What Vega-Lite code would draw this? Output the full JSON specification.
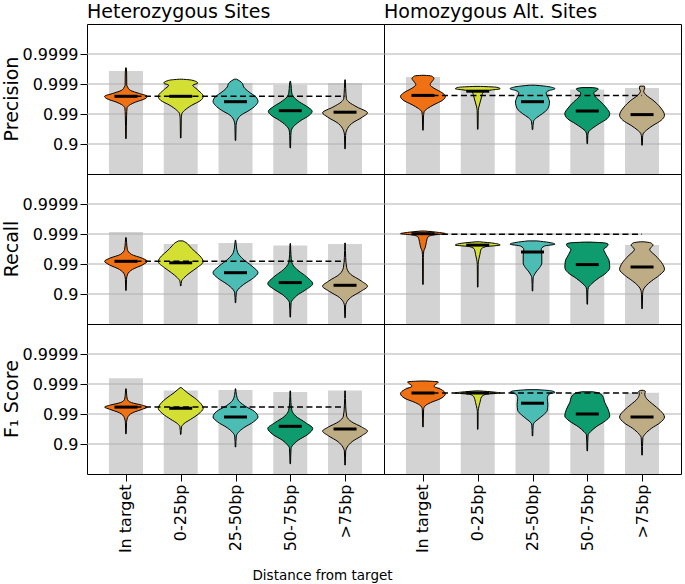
{
"$schema":"https://vega.github.io/schema/vega-lite/v6.json",
"padding":{"left":3,"top":3,"right":0,"bottom":0},
"bounds":"flush",
"data":{"values":[
{"r":"P","s":"het","k":"b","c":0,"y":3.43},{"r":"P","s":"het","k":"b","c":1,"y":3.03},{"r":"P","s":"het","k":"b","c":2,"y":3.03},{"r":"P","s":"het","k":"b","c":3,"y":2.97},{"r":"P","s":"het","k":"b","c":4,"y":3.03},
{"r":"P","s":"hom","k":"b","c":0,"y":3.23},{"r":"P","s":"hom","k":"b","c":1,"y":2.85},{"r":"P","s":"hom","k":"b","c":2,"y":2.87},{"r":"P","s":"hom","k":"b","c":3,"y":2.82},{"r":"P","s":"hom","k":"b","c":4,"y":2.87},
{"r":"R","s":"het","k":"b","c":0,"y":3.07},{"r":"R","s":"het","k":"b","c":1,"y":2.67},{"r":"R","s":"het","k":"b","c":2,"y":2.7},{"r":"R","s":"het","k":"b","c":3,"y":2.62},{"r":"R","s":"het","k":"b","c":4,"y":2.67},
{"r":"R","s":"hom","k":"b","c":0,"y":3.0},{"r":"R","s":"hom","k":"b","c":1,"y":2.6},{"r":"R","s":"hom","k":"b","c":2,"y":2.63},{"r":"R","s":"hom","k":"b","c":3,"y":2.6},{"r":"R","s":"hom","k":"b","c":4,"y":2.63},
{"r":"F","s":"het","k":"b","c":0,"y":3.19},{"r":"F","s":"het","k":"b","c":1,"y":2.78},{"r":"F","s":"het","k":"b","c":2,"y":2.8},{"r":"F","s":"het","k":"b","c":3,"y":2.73},{"r":"F","s":"het","k":"b","c":4,"y":2.78},
{"r":"F","s":"hom","k":"b","c":0,"y":2.9},{"r":"F","s":"hom","k":"b","c":1,"y":2.71},{"r":"F","s":"hom","k":"b","c":2,"y":2.73},{"r":"F","s":"hom","k":"b","c":3,"y":2.7},{"r":"F","s":"hom","k":"b","c":4,"y":2.71},
{"r":"P","s":"het","k":"m","c":0,"y":2.59},{"r":"P","s":"het","k":"m","c":1,"y":2.59},{"r":"P","s":"het","k":"m","c":2,"y":2.41},{"r":"P","s":"het","k":"m","c":3,"y":2.11},{"r":"P","s":"het","k":"m","c":4,"y":2.06},
{"r":"P","s":"hom","k":"m","c":0,"y":2.62},{"r":"P","s":"hom","k":"m","c":1,"y":2.76},{"r":"P","s":"hom","k":"m","c":2,"y":2.41},{"r":"P","s":"hom","k":"m","c":3,"y":2.1},{"r":"P","s":"hom","k":"m","c":4,"y":1.98},
{"r":"R","s":"het","k":"m","c":0,"y":2.09},{"r":"R","s":"het","k":"m","c":1,"y":2.04},{"r":"R","s":"het","k":"m","c":2,"y":1.71},{"r":"R","s":"het","k":"m","c":3,"y":1.38},{"r":"R","s":"het","k":"m","c":4,"y":1.29},
{"r":"R","s":"hom","k":"m","c":0,"y":3.01},{"r":"R","s":"hom","k":"m","c":1,"y":2.63},{"r":"R","s":"hom","k":"m","c":2,"y":2.4},{"r":"R","s":"hom","k":"m","c":3,"y":1.98},{"r":"R","s":"hom","k":"m","c":4,"y":1.9},
{"r":"F","s":"het","k":"m","c":0,"y":2.23},{"r":"F","s":"het","k":"m","c":1,"y":2.19},{"r":"F","s":"het","k":"m","c":2,"y":1.9},{"r":"F","s":"het","k":"m","c":3,"y":1.59},{"r":"F","s":"het","k":"m","c":4,"y":1.5},
{"r":"F","s":"hom","k":"m","c":0,"y":2.7},{"r":"F","s":"hom","k":"m","c":1,"y":2.7},{"r":"F","s":"hom","k":"m","c":2,"y":2.36},{"r":"F","s":"hom","k":"m","c":3,"y":2.0},{"r":"F","s":"hom","k":"m","c":4,"y":1.9},
{"r":"P","s":"het","k":"d","y":2.59},{"r":"P","s":"hom","k":"d","y":2.62},{"r":"R","s":"het","k":"d","y":2.09},{"r":"R","s":"hom","k":"d","y":2.99},{"r":"F","s":"het","k":"d","y":2.23},{"r":"F","s":"hom","k":"d","y":2.7},

{"r":"P","s":"het","k":"v","c":0,"y":3.54,"w":0.005},{"r":"P","s":"het","k":"v","c":0,"y":3.40,"w":0.012},{"r":"P","s":"het","k":"v","c":0,"y":2.96,"w":0.015},{"r":"P","s":"het","k":"v","c":0,"y":2.90,"w":0.03},{"r":"P","s":"het","k":"v","c":0,"y":2.79,"w":0.08},{"r":"P","s":"het","k":"v","c":0,"y":2.68,"w":0.25},{"r":"P","s":"het","k":"v","c":0,"y":2.59,"w":0.39},{"r":"P","s":"het","k":"v","c":0,"y":2.51,"w":0.35},{"r":"P","s":"het","k":"v","c":0,"y":2.40,"w":0.18},{"r":"P","s":"het","k":"v","c":0,"y":2.29,"w":0.06},{"r":"P","s":"het","k":"v","c":0,"y":2.20,"w":0.02},{"r":"P","s":"het","k":"v","c":0,"y":1.96,"w":0.012},{"r":"P","s":"het","k":"v","c":0,"y":1.18,"w":0.005},
{"r":"P","s":"het","k":"v","c":1,"y":3.16,"w":0.02},{"r":"P","s":"het","k":"v","c":1,"y":3.13,"w":0.2},{"r":"P","s":"het","k":"v","c":1,"y":3.03,"w":0.31},{"r":"P","s":"het","k":"v","c":1,"y":2.96,"w":0.22},{"r":"P","s":"het","k":"v","c":1,"y":2.82,"w":0.3},{"r":"P","s":"het","k":"v","c":1,"y":2.59,"w":0.41},{"r":"P","s":"het","k":"v","c":1,"y":2.46,"w":0.37},{"r":"P","s":"het","k":"v","c":1,"y":2.29,"w":0.2},{"r":"P","s":"het","k":"v","c":1,"y":2.12,"w":0.07},{"r":"P","s":"het","k":"v","c":1,"y":2.01,"w":0.02},{"r":"P","s":"het","k":"v","c":1,"y":1.84,"w":0.01},{"r":"P","s":"het","k":"v","c":1,"y":1.20,"w":0.005},
{"r":"P","s":"het","k":"v","c":2,"y":3.16,"w":0.02},{"r":"P","s":"het","k":"v","c":2,"y":3.11,"w":0.07},{"r":"P","s":"het","k":"v","c":2,"y":3.01,"w":0.13},{"r":"P","s":"het","k":"v","c":2,"y":2.90,"w":0.15},{"r":"P","s":"het","k":"v","c":2,"y":2.73,"w":0.25},{"r":"P","s":"het","k":"v","c":2,"y":2.57,"w":0.37},{"r":"P","s":"het","k":"v","c":2,"y":2.42,"w":0.41},{"r":"P","s":"het","k":"v","c":2,"y":2.29,"w":0.37},{"r":"P","s":"het","k":"v","c":2,"y":2.12,"w":0.25},{"r":"P","s":"het","k":"v","c":2,"y":1.96,"w":0.1},{"r":"P","s":"het","k":"v","c":2,"y":1.79,"w":0.03},{"r":"P","s":"het","k":"v","c":2,"y":1.62,"w":0.01},{"r":"P","s":"het","k":"v","c":2,"y":1.12,"w":0.005},
{"r":"P","s":"het","k":"v","c":3,"y":3.09,"w":0.005},{"r":"P","s":"het","k":"v","c":3,"y":2.96,"w":0.015},{"r":"P","s":"het","k":"v","c":3,"y":2.73,"w":0.025},{"r":"P","s":"het","k":"v","c":3,"y":2.57,"w":0.06},{"r":"P","s":"het","k":"v","c":3,"y":2.40,"w":0.17},{"r":"P","s":"het","k":"v","c":3,"y":2.23,"w":0.32},{"r":"P","s":"het","k":"v","c":3,"y":2.09,"w":0.4},{"r":"P","s":"het","k":"v","c":3,"y":1.96,"w":0.35},{"r":"P","s":"het","k":"v","c":3,"y":1.79,"w":0.2},{"r":"P","s":"het","k":"v","c":3,"y":1.62,"w":0.08},{"r":"P","s":"het","k":"v","c":3,"y":1.46,"w":0.02},{"r":"P","s":"het","k":"v","c":3,"y":1.29,"w":0.01},{"r":"P","s":"het","k":"v","c":3,"y":0.87,"w":0.005},
{"r":"P","s":"het","k":"v","c":4,"y":3.14,"w":0.005},{"r":"P","s":"het","k":"v","c":4,"y":2.84,"w":0.012},{"r":"P","s":"het","k":"v","c":4,"y":2.51,"w":0.025},{"r":"P","s":"het","k":"v","c":4,"y":2.40,"w":0.07},{"r":"P","s":"het","k":"v","c":4,"y":2.23,"w":0.22},{"r":"P","s":"het","k":"v","c":4,"y":2.04,"w":0.41},{"r":"P","s":"het","k":"v","c":4,"y":1.90,"w":0.32},{"r":"P","s":"het","k":"v","c":4,"y":1.68,"w":0.12},{"r":"P","s":"het","k":"v","c":4,"y":1.46,"w":0.03},{"r":"P","s":"het","k":"v","c":4,"y":1.29,"w":0.01},{"r":"P","s":"het","k":"v","c":4,"y":0.84,"w":0.005},

{"r":"P","s":"hom","k":"v","c":0,"y":3.29,"w":0.02},{"r":"P","s":"hom","k":"v","c":0,"y":3.27,"w":0.15},{"r":"P","s":"hom","k":"v","c":0,"y":3.18,"w":0.2},{"r":"P","s":"hom","k":"v","c":0,"y":3.07,"w":0.16},{"r":"P","s":"hom","k":"v","c":0,"y":2.98,"w":0.13},{"r":"P","s":"hom","k":"v","c":0,"y":2.84,"w":0.22},{"r":"P","s":"hom","k":"v","c":0,"y":2.71,"w":0.35},{"r":"P","s":"hom","k":"v","c":0,"y":2.59,"w":0.41},{"r":"P","s":"hom","k":"v","c":0,"y":2.46,"w":0.36},{"r":"P","s":"hom","k":"v","c":0,"y":2.31,"w":0.2},{"r":"P","s":"hom","k":"v","c":0,"y":2.18,"w":0.08},{"r":"P","s":"hom","k":"v","c":0,"y":2.07,"w":0.02},{"r":"P","s":"hom","k":"v","c":0,"y":1.90,"w":0.01},{"r":"P","s":"hom","k":"v","c":0,"y":1.46,"w":0.005},
{"r":"P","s":"hom","k":"v","c":1,"y":2.92,"w":0.05},{"r":"P","s":"hom","k":"v","c":1,"y":2.89,"w":0.35},{"r":"P","s":"hom","k":"v","c":1,"y":2.84,"w":0.41},{"r":"P","s":"hom","k":"v","c":1,"y":2.80,"w":0.25},{"r":"P","s":"hom","k":"v","c":1,"y":2.73,"w":0.1},{"r":"P","s":"hom","k":"v","c":1,"y":2.57,"w":0.07},{"r":"P","s":"hom","k":"v","c":1,"y":2.40,"w":0.045},{"r":"P","s":"hom","k":"v","c":1,"y":2.23,"w":0.02},{"r":"P","s":"hom","k":"v","c":1,"y":2.12,"w":0.01},{"r":"P","s":"hom","k":"v","c":1,"y":1.49,"w":0.005},
{"r":"P","s":"hom","k":"v","c":2,"y":2.96,"w":0.05},{"r":"P","s":"hom","k":"v","c":2,"y":2.91,"w":0.3},{"r":"P","s":"hom","k":"v","c":2,"y":2.84,"w":0.41},{"r":"P","s":"hom","k":"v","c":2,"y":2.78,"w":0.3},{"r":"P","s":"hom","k":"v","c":2,"y":2.71,"w":0.25},{"r":"P","s":"hom","k":"v","c":2,"y":2.57,"w":0.28},{"r":"P","s":"hom","k":"v","c":2,"y":2.40,"w":0.31},{"r":"P","s":"hom","k":"v","c":2,"y":2.18,"w":0.28},{"r":"P","s":"hom","k":"v","c":2,"y":2.01,"w":0.18},{"r":"P","s":"hom","k":"v","c":2,"y":1.87,"w":0.07},{"r":"P","s":"hom","k":"v","c":2,"y":1.76,"w":0.02},{"r":"P","s":"hom","k":"v","c":2,"y":1.48,"w":0.005},
{"r":"P","s":"hom","k":"v","c":3,"y":2.88,"w":0.1},{"r":"P","s":"hom","k":"v","c":3,"y":2.84,"w":0.2},{"r":"P","s":"hom","k":"v","c":3,"y":2.79,"w":0.18},{"r":"P","s":"hom","k":"v","c":3,"y":2.71,"w":0.12},{"r":"P","s":"hom","k":"v","c":3,"y":2.57,"w":0.15},{"r":"P","s":"hom","k":"v","c":3,"y":2.40,"w":0.25},{"r":"P","s":"hom","k":"v","c":3,"y":2.20,"w":0.35},{"r":"P","s":"hom","k":"v","c":3,"y":2.01,"w":0.41},{"r":"P","s":"hom","k":"v","c":3,"y":1.84,"w":0.36},{"r":"P","s":"hom","k":"v","c":3,"y":1.68,"w":0.22},{"r":"P","s":"hom","k":"v","c":3,"y":1.53,"w":0.1},{"r":"P","s":"hom","k":"v","c":3,"y":1.42,"w":0.03},{"r":"P","s":"hom","k":"v","c":3,"y":1.29,"w":0.01},{"r":"P","s":"hom","k":"v","c":3,"y":1.01,"w":0.005},
{"r":"P","s":"hom","k":"v","c":4,"y":2.93,"w":0.04},{"r":"P","s":"hom","k":"v","c":4,"y":2.87,"w":0.05},{"r":"P","s":"hom","k":"v","c":4,"y":2.76,"w":0.03},{"r":"P","s":"hom","k":"v","c":4,"y":2.64,"w":0.07},{"r":"P","s":"hom","k":"v","c":4,"y":2.46,"w":0.2},{"r":"P","s":"hom","k":"v","c":4,"y":2.23,"w":0.33},{"r":"P","s":"hom","k":"v","c":4,"y":1.96,"w":0.41},{"r":"P","s":"hom","k":"v","c":4,"y":1.79,"w":0.35},{"r":"P","s":"hom","k":"v","c":4,"y":1.62,"w":0.2},{"r":"P","s":"hom","k":"v","c":4,"y":1.46,"w":0.08},{"r":"P","s":"hom","k":"v","c":4,"y":1.34,"w":0.02},{"r":"P","s":"hom","k":"v","c":4,"y":1.23,"w":0.01},{"r":"P","s":"hom","k":"v","c":4,"y":0.96,"w":0.005},

{"r":"R","s":"het","k":"v","c":0,"y":2.88,"w":0.005},{"r":"R","s":"het","k":"v","c":0,"y":2.71,"w":0.012},{"r":"R","s":"het","k":"v","c":0,"y":2.49,"w":0.025},{"r":"R","s":"het","k":"v","c":0,"y":2.32,"w":0.1},{"r":"R","s":"het","k":"v","c":0,"y":2.19,"w":0.3},{"r":"R","s":"het","k":"v","c":0,"y":2.09,"w":0.39},{"r":"R","s":"het","k":"v","c":0,"y":1.97,"w":0.3},{"r":"R","s":"het","k":"v","c":0,"y":1.82,"w":0.12},{"r":"R","s":"het","k":"v","c":0,"y":1.66,"w":0.03},{"r":"R","s":"het","k":"v","c":0,"y":1.49,"w":0.01},{"r":"R","s":"het","k":"v","c":0,"y":1.12,"w":0.005},
{"r":"R","s":"het","k":"v","c":1,"y":2.77,"w":0.04},{"r":"R","s":"het","k":"v","c":1,"y":2.71,"w":0.1},{"r":"R","s":"het","k":"v","c":1,"y":2.60,"w":0.16},{"r":"R","s":"het","k":"v","c":1,"y":2.43,"w":0.25},{"r":"R","s":"het","k":"v","c":1,"y":2.27,"w":0.35},{"r":"R","s":"het","k":"v","c":1,"y":2.08,"w":0.41},{"r":"R","s":"het","k":"v","c":1,"y":1.88,"w":0.3},{"r":"R","s":"het","k":"v","c":1,"y":1.71,"w":0.17},{"r":"R","s":"het","k":"v","c":1,"y":1.54,"w":0.06},{"r":"R","s":"het","k":"v","c":1,"y":1.43,"w":0.015},{"r":"R","s":"het","k":"v","c":1,"y":1.27,"w":0.005},
{"r":"R","s":"het","k":"v","c":2,"y":2.79,"w":0.005},{"r":"R","s":"het","k":"v","c":2,"y":2.60,"w":0.015},{"r":"R","s":"het","k":"v","c":2,"y":2.38,"w":0.04},{"r":"R","s":"het","k":"v","c":2,"y":2.16,"w":0.14},{"r":"R","s":"het","k":"v","c":2,"y":1.93,"w":0.3},{"r":"R","s":"het","k":"v","c":2,"y":1.71,"w":0.41},{"r":"R","s":"het","k":"v","c":2,"y":1.54,"w":0.33},{"r":"R","s":"het","k":"v","c":2,"y":1.32,"w":0.15},{"r":"R","s":"het","k":"v","c":2,"y":1.16,"w":0.05},{"r":"R","s":"het","k":"v","c":2,"y":1.04,"w":0.015},{"r":"R","s":"het","k":"v","c":2,"y":0.71,"w":0.005},
{"r":"R","s":"het","k":"v","c":3,"y":2.68,"w":0.005},{"r":"R","s":"het","k":"v","c":3,"y":2.32,"w":0.012},{"r":"R","s":"het","k":"v","c":3,"y":2.04,"w":0.03},{"r":"R","s":"het","k":"v","c":3,"y":1.82,"w":0.12},{"r":"R","s":"het","k":"v","c":3,"y":1.57,"w":0.3},{"r":"R","s":"het","k":"v","c":3,"y":1.34,"w":0.41},{"r":"R","s":"het","k":"v","c":3,"y":1.16,"w":0.3},{"r":"R","s":"het","k":"v","c":3,"y":0.99,"w":0.15},{"r":"R","s":"het","k":"v","c":3,"y":0.82,"w":0.05},{"r":"R","s":"het","k":"v","c":3,"y":0.71,"w":0.015},{"r":"R","s":"het","k":"v","c":3,"y":0.23,"w":0.005},
{"r":"R","s":"het","k":"v","c":4,"y":2.70,"w":0.005},{"r":"R","s":"het","k":"v","c":4,"y":2.21,"w":0.012},{"r":"R","s":"het","k":"v","c":4,"y":1.88,"w":0.03},{"r":"R","s":"het","k":"v","c":4,"y":1.66,"w":0.1},{"r":"R","s":"het","k":"v","c":4,"y":1.43,"w":0.3},{"r":"R","s":"het","k":"v","c":4,"y":1.26,"w":0.41},{"r":"R","s":"het","k":"v","c":4,"y":1.08,"w":0.28},{"r":"R","s":"het","k":"v","c":4,"y":0.88,"w":0.1},{"r":"R","s":"het","k":"v","c":4,"y":0.71,"w":0.025},{"r":"R","s":"het","k":"v","c":4,"y":0.60,"w":0.01},{"r":"R","s":"het","k":"v","c":4,"y":0.21,"w":0.005},

{"r":"R","s":"hom","k":"v","c":0,"y":3.10,"w":0.03},{"r":"R","s":"hom","k":"v","c":0,"y":3.06,"w":0.25},{"r":"R","s":"hom","k":"v","c":0,"y":3.01,"w":0.41},{"r":"R","s":"hom","k":"v","c":0,"y":2.97,"w":0.2},{"r":"R","s":"hom","k":"v","c":0,"y":2.90,"w":0.09},{"r":"R","s":"hom","k":"v","c":0,"y":2.71,"w":0.06},{"r":"R","s":"hom","k":"v","c":0,"y":2.54,"w":0.04},{"r":"R","s":"hom","k":"v","c":0,"y":2.43,"w":0.015},{"r":"R","s":"hom","k":"v","c":0,"y":2.21,"w":0.007},{"r":"R","s":"hom","k":"v","c":0,"y":1.32,"w":0.005},
{"r":"R","s":"hom","k":"v","c":1,"y":2.74,"w":0.03},{"r":"R","s":"hom","k":"v","c":1,"y":2.69,"w":0.3},{"r":"R","s":"hom","k":"v","c":1,"y":2.63,"w":0.41},{"r":"R","s":"hom","k":"v","c":1,"y":2.58,"w":0.15},{"r":"R","s":"hom","k":"v","c":1,"y":2.49,"w":0.06},{"r":"R","s":"hom","k":"v","c":1,"y":2.32,"w":0.04},{"r":"R","s":"hom","k":"v","c":1,"y":2.16,"w":0.02},{"r":"R","s":"hom","k":"v","c":1,"y":1.99,"w":0.008},{"r":"R","s":"hom","k":"v","c":1,"y":1.23,"w":0.005},
{"r":"R","s":"hom","k":"v","c":2,"y":2.77,"w":0.08},{"r":"R","s":"hom","k":"v","c":2,"y":2.72,"w":0.3},{"r":"R","s":"hom","k":"v","c":2,"y":2.66,"w":0.41},{"r":"R","s":"hom","k":"v","c":2,"y":2.60,"w":0.22},{"r":"R","s":"hom","k":"v","c":2,"y":2.49,"w":0.16},{"r":"R","s":"hom","k":"v","c":2,"y":2.27,"w":0.17},{"r":"R","s":"hom","k":"v","c":2,"y":2.04,"w":0.17},{"r":"R","s":"hom","k":"v","c":2,"y":1.88,"w":0.13},{"r":"R","s":"hom","k":"v","c":2,"y":1.77,"w":0.08},{"r":"R","s":"hom","k":"v","c":2,"y":1.63,"w":0.03},{"r":"R","s":"hom","k":"v","c":2,"y":1.54,"w":0.012},{"r":"R","s":"hom","k":"v","c":2,"y":1.10,"w":0.005},
{"r":"R","s":"hom","k":"v","c":3,"y":2.73,"w":0.05},{"r":"R","s":"hom","k":"v","c":3,"y":2.70,"w":0.33},{"r":"R","s":"hom","k":"v","c":3,"y":2.66,"w":0.38},{"r":"R","s":"hom","k":"v","c":3,"y":2.58,"w":0.36},{"r":"R","s":"hom","k":"v","c":3,"y":2.49,"w":0.3},{"r":"R","s":"hom","k":"v","c":3,"y":2.32,"w":0.34},{"r":"R","s":"hom","k":"v","c":3,"y":2.10,"w":0.4},{"r":"R","s":"hom","k":"v","c":3,"y":1.88,"w":0.41},{"r":"R","s":"hom","k":"v","c":3,"y":1.71,"w":0.35},{"r":"R","s":"hom","k":"v","c":3,"y":1.52,"w":0.2},{"r":"R","s":"hom","k":"v","c":3,"y":1.34,"w":0.08},{"r":"R","s":"hom","k":"v","c":3,"y":1.21,"w":0.02},{"r":"R","s":"hom","k":"v","c":3,"y":1.10,"w":0.01},{"r":"R","s":"hom","k":"v","c":3,"y":0.66,"w":0.005},
{"r":"R","s":"hom","k":"v","c":4,"y":2.74,"w":0.03},{"r":"R","s":"hom","k":"v","c":4,"y":2.71,"w":0.15},{"r":"R","s":"hom","k":"v","c":4,"y":2.63,"w":0.2},{"r":"R","s":"hom","k":"v","c":4,"y":2.49,"w":0.14},{"r":"R","s":"hom","k":"v","c":4,"y":2.27,"w":0.25},{"r":"R","s":"hom","k":"v","c":4,"y":2.04,"w":0.36},{"r":"R","s":"hom","k":"v","c":4,"y":1.82,"w":0.41},{"r":"R","s":"hom","k":"v","c":4,"y":1.63,"w":0.32},{"r":"R","s":"hom","k":"v","c":4,"y":1.43,"w":0.17},{"r":"R","s":"hom","k":"v","c":4,"y":1.27,"w":0.07},{"r":"R","s":"hom","k":"v","c":4,"y":1.12,"w":0.02},{"r":"R","s":"hom","k":"v","c":4,"y":0.99,"w":0.01},{"r":"R","s":"hom","k":"v","c":4,"y":0.51,"w":0.005},

{"r":"F","s":"het","k":"v","c":0,"y":2.84,"w":0.005},{"r":"F","s":"het","k":"v","c":0,"y":2.66,"w":0.012},{"r":"F","s":"het","k":"v","c":0,"y":2.49,"w":0.025},{"r":"F","s":"het","k":"v","c":0,"y":2.38,"w":0.1},{"r":"F","s":"het","k":"v","c":0,"y":2.30,"w":0.28},{"r":"F","s":"het","k":"v","c":0,"y":2.23,"w":0.39},{"r":"F","s":"het","k":"v","c":0,"y":2.16,"w":0.3},{"r":"F","s":"het","k":"v","c":0,"y":2.04,"w":0.12},{"r":"F","s":"het","k":"v","c":0,"y":1.88,"w":0.03},{"r":"F","s":"het","k":"v","c":0,"y":1.71,"w":0.01},{"r":"F","s":"het","k":"v","c":0,"y":1.34,"w":0.005},
{"r":"F","s":"het","k":"v","c":1,"y":2.88,"w":0.01},{"r":"F","s":"het","k":"v","c":1,"y":2.82,"w":0.05},{"r":"F","s":"het","k":"v","c":1,"y":2.71,"w":0.12},{"r":"F","s":"het","k":"v","c":1,"y":2.54,"w":0.25},{"r":"F","s":"het","k":"v","c":1,"y":2.34,"w":0.37},{"r":"F","s":"het","k":"v","c":1,"y":2.19,"w":0.41},{"r":"F","s":"het","k":"v","c":1,"y":2.01,"w":0.33},{"r":"F","s":"het","k":"v","c":1,"y":1.82,"w":0.18},{"r":"F","s":"het","k":"v","c":1,"y":1.68,"w":0.06},{"r":"F","s":"het","k":"v","c":1,"y":1.57,"w":0.015},{"r":"F","s":"het","k":"v","c":1,"y":1.32,"w":0.005},
{"r":"F","s":"het","k":"v","c":2,"y":2.84,"w":0.005},{"r":"F","s":"het","k":"v","c":2,"y":2.66,"w":0.015},{"r":"F","s":"het","k":"v","c":2,"y":2.46,"w":0.05},{"r":"F","s":"het","k":"v","c":2,"y":2.27,"w":0.17},{"r":"F","s":"het","k":"v","c":2,"y":2.08,"w":0.35},{"r":"F","s":"het","k":"v","c":2,"y":1.90,"w":0.41},{"r":"F","s":"het","k":"v","c":2,"y":1.74,"w":0.33},{"r":"F","s":"het","k":"v","c":2,"y":1.54,"w":0.15},{"r":"F","s":"het","k":"v","c":2,"y":1.38,"w":0.05},{"r":"F","s":"het","k":"v","c":2,"y":1.27,"w":0.015},{"r":"F","s":"het","k":"v","c":2,"y":0.90,"w":0.005},
{"r":"F","s":"het","k":"v","c":3,"y":2.77,"w":0.005},{"r":"F","s":"het","k":"v","c":3,"y":2.38,"w":0.012},{"r":"F","s":"het","k":"v","c":3,"y":2.12,"w":0.03},{"r":"F","s":"het","k":"v","c":3,"y":1.93,"w":0.1},{"r":"F","s":"het","k":"v","c":3,"y":1.71,"w":0.28},{"r":"F","s":"het","k":"v","c":3,"y":1.52,"w":0.41},{"r":"F","s":"het","k":"v","c":3,"y":1.32,"w":0.32},{"r":"F","s":"het","k":"v","c":3,"y":1.12,"w":0.14},{"r":"F","s":"het","k":"v","c":3,"y":0.97,"w":0.05},{"r":"F","s":"het","k":"v","c":3,"y":0.86,"w":0.015},{"r":"F","s":"het","k":"v","c":3,"y":0.34,"w":0.005},
{"r":"F","s":"het","k":"v","c":4,"y":2.77,"w":0.005},{"r":"F","s":"het","k":"v","c":4,"y":2.27,"w":0.012},{"r":"F","s":"het","k":"v","c":4,"y":1.93,"w":0.03},{"r":"F","s":"het","k":"v","c":4,"y":1.74,"w":0.12},{"r":"F","s":"het","k":"v","c":4,"y":1.57,"w":0.3},{"r":"F","s":"het","k":"v","c":4,"y":1.43,"w":0.41},{"r":"F","s":"het","k":"v","c":4,"y":1.27,"w":0.3},{"r":"F","s":"het","k":"v","c":4,"y":1.08,"w":0.13},{"r":"F","s":"het","k":"v","c":4,"y":0.90,"w":0.04},{"r":"F","s":"het","k":"v","c":4,"y":0.77,"w":0.012},{"r":"F","s":"het","k":"v","c":4,"y":0.30,"w":0.005},

{"r":"F","s":"hom","k":"v","c":0,"y":3.10,"w":0.05},{"r":"F","s":"hom","k":"v","c":0,"y":3.07,"w":0.28},{"r":"F","s":"hom","k":"v","c":0,"y":3.01,"w":0.25},{"r":"F","s":"hom","k":"v","c":0,"y":2.93,"w":0.2},{"r":"F","s":"hom","k":"v","c":0,"y":2.82,"w":0.33},{"r":"F","s":"hom","k":"v","c":0,"y":2.68,"w":0.41},{"r":"F","s":"hom","k":"v","c":0,"y":2.52,"w":0.33},{"r":"F","s":"hom","k":"v","c":0,"y":2.38,"w":0.14},{"r":"F","s":"hom","k":"v","c":0,"y":2.27,"w":0.04},{"r":"F","s":"hom","k":"v","c":0,"y":2.16,"w":0.012},{"r":"F","s":"hom","k":"v","c":0,"y":1.57,"w":0.005},
{"r":"F","s":"hom","k":"v","c":1,"y":2.77,"w":0.03},{"r":"F","s":"hom","k":"v","c":1,"y":2.73,"w":0.3},{"r":"F","s":"hom","k":"v","c":1,"y":2.70,"w":0.41},{"r":"F","s":"hom","k":"v","c":1,"y":2.66,"w":0.15},{"r":"F","s":"hom","k":"v","c":1,"y":2.57,"w":0.07},{"r":"F","s":"hom","k":"v","c":1,"y":2.38,"w":0.04},{"r":"F","s":"hom","k":"v","c":1,"y":2.19,"w":0.015},{"r":"F","s":"hom","k":"v","c":1,"y":2.08,"w":0.007},{"r":"F","s":"hom","k":"v","c":1,"y":1.49,"w":0.005},
{"r":"F","s":"hom","k":"v","c":2,"y":2.81,"w":0.1},{"r":"F","s":"hom","k":"v","c":2,"y":2.77,"w":0.35},{"r":"F","s":"hom","k":"v","c":2,"y":2.72,"w":0.41},{"r":"F","s":"hom","k":"v","c":2,"y":2.66,"w":0.3},{"r":"F","s":"hom","k":"v","c":2,"y":2.52,"w":0.27},{"r":"F","s":"hom","k":"v","c":2,"y":2.32,"w":0.28},{"r":"F","s":"hom","k":"v","c":2,"y":2.12,"w":0.27},{"r":"F","s":"hom","k":"v","c":2,"y":1.97,"w":0.2},{"r":"F","s":"hom","k":"v","c":2,"y":1.82,"w":0.1},{"r":"F","s":"hom","k":"v","c":2,"y":1.71,"w":0.03},{"r":"F","s":"hom","k":"v","c":2,"y":1.63,"w":0.012},{"r":"F","s":"hom","k":"v","c":2,"y":1.27,"w":0.005},
{"r":"F","s":"hom","k":"v","c":3,"y":2.74,"w":0.1},{"r":"F","s":"hom","k":"v","c":3,"y":2.71,"w":0.19},{"r":"F","s":"hom","k":"v","c":3,"y":2.60,"w":0.28},{"r":"F","s":"hom","k":"v","c":3,"y":2.38,"w":0.32},{"r":"F","s":"hom","k":"v","c":3,"y":2.16,"w":0.38},{"r":"F","s":"hom","k":"v","c":3,"y":1.93,"w":0.41},{"r":"F","s":"hom","k":"v","c":3,"y":1.77,"w":0.33},{"r":"F","s":"hom","k":"v","c":3,"y":1.57,"w":0.16},{"r":"F","s":"hom","k":"v","c":3,"y":1.41,"w":0.06},{"r":"F","s":"hom","k":"v","c":3,"y":1.30,"w":0.015},{"r":"F","s":"hom","k":"v","c":3,"y":0.77,"w":0.005},
{"r":"F","s":"hom","k":"v","c":4,"y":2.79,"w":0.02},{"r":"F","s":"hom","k":"v","c":4,"y":2.76,"w":0.06},{"r":"F","s":"hom","k":"v","c":4,"y":2.66,"w":0.05},{"r":"F","s":"hom","k":"v","c":4,"y":2.52,"w":0.08},{"r":"F","s":"hom","k":"v","c":4,"y":2.32,"w":0.2},{"r":"F","s":"hom","k":"v","c":4,"y":2.12,"w":0.33},{"r":"F","s":"hom","k":"v","c":4,"y":1.90,"w":0.41},{"r":"F","s":"hom","k":"v","c":4,"y":1.71,"w":0.33},{"r":"F","s":"hom","k":"v","c":4,"y":1.52,"w":0.17},{"r":"F","s":"hom","k":"v","c":4,"y":1.34,"w":0.06},{"r":"F","s":"hom","k":"v","c":4,"y":1.21,"w":0.015},{"r":"F","s":"hom","k":"v","c":4,"y":0.63,"w":0.005}
]},
"facet":{
 "row":{"field":"r","type":"nominal","sort":["P","R","F"],"header":{"title":null,"labelExpr":"datum.value=='P'?'Precision':datum.value=='R'?'Recall':'F₁ Score'","labelAngle":-90,"labelFontSize":19,"labelPadding":-9,"labelColor":"black","labelFont":"DejaVu Sans"}},
 "column":{"field":"s","type":"nominal","sort":["het","hom"],"header":{"title":null,"labelExpr":"datum.value=='het'?'Heterozygous Sites':'Homozygous Alt. Sites'","labelAnchor":"start","labelAlign":"left","labelFontSize":19,"labelPadding":2,"labelColor":"black","labelFont":"DejaVu Sans"}}
},
"spacing":0,
"title":{"text":"Distance from target","orient":"bottom","anchor":"middle","fontSize":13.5,"fontWeight":"normal","font":"DejaVu Sans","color":"black","offset":16,"dx":-20},
"spec":{"width":297,"height":150,"layer":[
 {"transform":[{"filter":"datum.k=='b'"}],"mark":{"type":"bar","color":"#d3d3d3","size":34},
  "encoding":{
   "x":{"field":"c","type":"quantitative","title":null,"scale":{"domain":[-0.62,4.62],"nice":false,"zero":false},"axis":{"values":[0,1,2,3,4],"labelExpr":"['In target','0-25bp','25-50bp','50-75bp','>75bp'][datum.value]","labelAngle":-90,"title":null,"grid":false,"domain":false,"ticks":true,"tickSize":7,"tickColor":"black","labelColor":"black","labelFontSize":16,"labelPadding":3,"labelFont":"DejaVu Sans"}},
   "y":{"field":"y","type":"quantitative","title":null,"scale":{"domain":[0,5],"nice":false,"zero":false},"axis":{"values":[1,2,3,4],"labelExpr":"['0','0.9','0.99','0.999','0.9999'][datum.value]","title":null,"grid":false,"domain":false,"ticks":true,"tickSize":7,"tickColor":"black","labelColor":"black","labelFontSize":16,"labelPadding":2,"labelFont":"DejaVu Sans"}},
   "y2":{"datum":0}}},
 {"transform":[{"filter":"datum.k=='b' && datum.c==0"}],"mark":{"type":"rule","color":"#b0b0b0","strokeWidth":1},"encoding":{"y":{"datum":1,"title":null}}},
 {"transform":[{"filter":"datum.k=='b' && datum.c==0"}],"mark":{"type":"rule","color":"#b0b0b0","strokeWidth":1},"encoding":{"y":{"datum":2,"title":null}}},
 {"transform":[{"filter":"datum.k=='b' && datum.c==0"}],"mark":{"type":"rule","color":"#b0b0b0","strokeWidth":1},"encoding":{"y":{"datum":3,"title":null}}},
 {"transform":[{"filter":"datum.k=='b' && datum.c==0"}],"mark":{"type":"rule","color":"#b0b0b0","strokeWidth":1},"encoding":{"y":{"datum":4,"title":null}}},
 {"transform":[{"filter":"datum.k=='v'"},{"calculate":"datum.c-datum.w","as":"lo"},{"calculate":"datum.c+datum.w","as":"hi"}],
  "mark":{"type":"area","orient":"horizontal","stroke":"black","strokeWidth":1,"opacity":1,"fillOpacity":1,"strokeJoin":"round","interpolate":"monotone"},
  "encoding":{
   "y":{"field":"y","type":"quantitative","title":null},
   "x":{"field":"lo","type":"quantitative","title":null,"stack":null},
   "x2":{"field":"hi"},
   "color":{"field":"c","type":"nominal","scale":{"domain":[0,1,2,3,4],"range":["#f07014","#d3e033","#4cbdb4","#0e9c6e","#bead84"]},"legend":null}}},
 {"transform":[{"filter":"datum.k=='m'"}],"mark":{"type":"tick","orient":"horizontal","color":"black","size":23,"thickness":3,"opacity":1},
  "encoding":{"x":{"field":"c","type":"quantitative","title":null},"y":{"field":"y","type":"quantitative","title":null}}},
 {"transform":[{"filter":"datum.k=='d'"}],"mark":{"type":"rule","color":"black","strokeWidth":1.5,"strokeDash":[6,3.5]},
  "encoding":{"x":{"datum":0,"title":null},"x2":{"datum":4},"y":{"field":"y","type":"quantitative","title":null}}}
]},
"config":{"view":{"stroke":"black","strokeWidth":1},"font":"DejaVu Sans"}
}
